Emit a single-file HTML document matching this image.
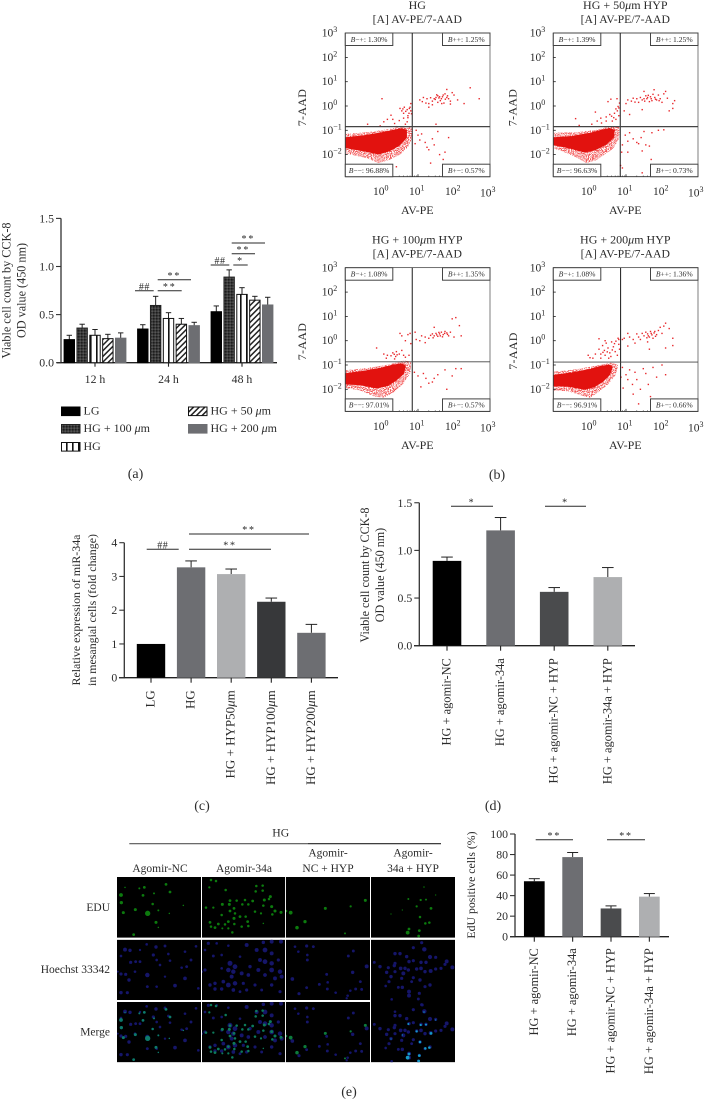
<!DOCTYPE html>
<html lang="en">
<head>
<meta charset="utf-8">
<title>Figure panels: CCK-8, flow cytometry, miR-34a and EdU</title>
<style>
html,body{margin:0;padding:0;background:#fff;width:705px;height:1102px;overflow:hidden}
svg text{font-family:"Liberation Serif","DejaVu Serif",serif;fill:#2b2b2b}
</style>
</head>
<body>
<svg id="fig" xmlns="http://www.w3.org/2000/svg" width="705" height="1102" viewBox="0 0 705 1102">
<defs>
<pattern id="p-dark" width="3" height="3" patternUnits="userSpaceOnUse"><rect width="3" height="3" fill="#3a3a3a"/><rect width="1.5" height="1.5" fill="#1c1c1c"/><rect x="1.5" y="1.5" width="1.5" height="1.5" fill="#555"/></pattern>
<pattern id="p-vert" width="6" height="4" patternUnits="userSpaceOnUse"><rect width="6" height="4" fill="#fff"/><rect x="0" width="1.6" height="4" fill="#111"/></pattern>
<pattern id="p-diag" width="4" height="4" patternUnits="userSpaceOnUse" patternTransform="rotate(45)"><rect width="4" height="4" fill="#fff"/><rect width="1.5" height="4" fill="#222"/></pattern>
<filter id="speckle" x="0" y="0" width="100%" height="100%"><feTurbulence type="fractalNoise" baseFrequency="0.95" numOctaves="1" seed="4"/><feColorMatrix type="matrix" values="0 0 0 0 0.89 0 0 0 0 0.09 0 0 0 0 0.09 0 0 0 7 -3"/><feComposite in2="SourceGraphic" operator="in"/></filter>
<filter id="soft" x="-10%" y="-10%" width="120%" height="120%"><feGaussianBlur stdDeviation="0.7"/></filter>
</defs>
</svg>
<script>
// ---- Panel (a) data
const aGroups = ['12 h','24 h','48 h'];
const aSeries = ['LG','HG + 100 μm','HG','HG + 50 μm','HG + 200 μm'];
const aValues = [[0.24,0.35,0.53],[0.36,0.595,0.89],[0.285,0.46,0.71],[0.25,0.40,0.65],[0.255,0.385,0.60]];
const aErrTops = [[0.285,0.395,0.59],[0.40,0.69,0.965],[0.345,0.52,0.78],[0.295,0.46,0.69],[0.31,0.42,0.68]];
const aTicks = ['0.0','0.5','1.0','1.5'];
// ---- Panel (c) data
const cCategories = ['LG','HG','HG + HYP50μm','HG + HYP100μm','HG + HYP200μm'];
const cValues = [1,3.27,3.07,2.25,1.33];
const cErrTops = [1,3.46,3.22,2.36,1.58];
const cTicks = ['0','1','2','3','4'];
// ---- Panel (d) data
const dCategories = ['HG + agomir-NC','HG + agomir-34a','HG + agomir-NC + HYP','HG + agomir-34a + HYP'];
const dValues = [0.89,1.21,0.565,0.72];
const dErrTops = [0.93,1.345,0.61,0.82];
const dTicks = ['0.0','0.5','1.0','1.5'];
// ---- Panel (e) bar data
const eCategories = ['HG + agomir-NC','HG + agomir-34a','HG + agomir-NC + HYP','HG + agomir-34a + HYP'];
const eValues = [54,77.5,27.5,39];
const eErrTops = [56.5,82,30,42];
const eTicks = ['0','20','40','60','80','100'];
// ---- Flow cytometry data (log10 AV-PE, log10 7-AAD)
const flowTitles = ['HG','HG + 50μm HYP','HG + 100μm HYP','HG + 200μm HYP'];
const flowDecades = [0,1,2,3];
const flowYDecades = [-2,-1,0,1,2,3];
const flowGates = [[0.84,-0.85],[0.84,-0.85],[0.84,-0.87],[0.85,-0.88]];
const flowPercents = [['1.30%','1.25%','96.88%','0.57%'],['1.39%','1.25%','96.63%','0.73%'],['1.08%','1.35%','97.01%','0.57%'],['1.08%','1.36%','96.91%','0.66%']];
const flowOuter = [
 [[-1,-1.15],[-.4,-1.08],[.2,-.95],[.6,-.82],[.82,-.87],[.85,-1.3],[.72,-1.7],[.5,-2.0],[.2,-2.22],[-.1,-2.35],[-.4,-2.15],[-.8,-2.02],[-1,-1.95]],
 [[-1,-1.1],[-.4,-1.08],[.2,-.98],[.6,-.82],[.82,-.85],[.82,-1.3],[.65,-1.75],[.4,-2.0],[.15,-2.25],[-.1,-2.35],[-.4,-2.1],[-.8,-1.85],[-1,-1.75]],
 [[-1,-1.22],[-.4,-1.12],[.2,-.98],[.6,-.82],[.8,-.85],[.8,-1.3],[.6,-1.75],[.35,-2.1],[.05,-2.35],[-.2,-2.3],[-.6,-2.05],[-1,-1.95]],
 [[-1,-1.28],[-.4,-1.18],[.2,-1.02],[.6,-.9],[.78,-1],[.72,-1.4],[.5,-1.8],[.25,-2.1],[.0,-2.35],[-.25,-2.25],[-.6,-2.08],[-1,-2.05]]
];
const flowCore = [
 [[-1,-1.3],[-.5,-1.22],[0,-1.1],[.3,-1],[.55,-.93],[.68,-1],[.68,-1.3],[.48,-1.62],[.2,-1.85],[-.1,-1.98],[-.5,-1.85],[-1,-1.72]],
 [[-1,-1.3],[-.5,-1.25],[0,-1.12],[.3,-1],[.55,-.92],[.68,-1],[.65,-1.3],[.45,-1.58],[.15,-1.8],[-.15,-1.9],[-.6,-1.72],[-1,-1.6]],
 [[-1,-1.35],[-.5,-1.25],[0,-1.12],[.3,-1],[.55,-.95],[.65,-1.05],[.6,-1.35],[.4,-1.62],[.15,-1.85],[-.15,-1.95],[-.6,-1.82],[-1,-1.78]],
 [[-1,-1.42],[-.5,-1.32],[0,-1.18],[.3,-1.05],[.55,-1],[.62,-1.1],[.55,-1.4],[.35,-1.68],[.12,-1.9],[-.15,-2],[-.6,-1.88],[-1,-1.86]]
];
const flowSparse = [
 [[1.05,.25],[1.15,.35],[1.25,.3],[1.3,.1],[1.4,.2],[1.45,.3],[1.5,.35],[1.55,.42],[1.6,.38],[1.65,.3],[1.7,.45],[1.75,.5],[1.8,.35],[1.85,.3],[1.9,.2],[1.95,.55],[2,.45],[1.4,.05],[1.55,.15],[1.72,.12],[1.9,.08],[2.1,.25],[2.28,.1],[2.7,.3],[2.45,.75],[1.8,.68],[1.3,-.05],[1.12,.18],[1.35,.34],[1.62,.22],[1.48,.27],[1.58,.33],[1.68,.38],[1.76,.28],[1.52,.46],[1.82,.42],[1.66,.1],[1.22,.12],
  [0,.3],[.6,-.3],[.3,-.55],[.5,-.1],[.55,-.2],[.7,-.15],[.75,-.3],[.8,-.2],[.72,-.4],[.7,-.65],[.65,-.75],[.4,-.85],[.15,-.55],[-.05,-.82],[-.4,-.75],[.05,-.65],[.25,-.38],[.78,-.05],[.8,.1],[.6,-.5],[.48,-.6],[.35,-.72],[.62,-.05],[.72,-.48],[.82,-.32],[.66,-.22],[.58,-.12],[.76,-.1],
  [1,-1.2],[1.05,-1.4],[1.1,-1.15],[1.2,-1.5],[1.25,-1.7],[1.3,-1.8],[1.4,-1.35],[1.45,-1.6],[1.5,-.75],[1.55,-1.05],[1.6,-2],[1.75,-1.9],[1.85,-1.3],[1.7,-2.2],[.95,-1],[1.35,-2.35],[.92,-1.55],[.4,-2.5],[.1,-2.55]],
 [[1,.1],[1.05,.25],[1.15,.2],[1.2,.32],[1.3,.3],[1.35,.15],[1.4,.35],[1.45,.25],[1.5,.3],[1.55,.42],[1.6,.35],[1.65,.18],[1.7,.3],[1.75,.48],[1.8,.35],[1.85,.25],[1.9,.45],[1.95,.3],[2,.15],[2.05,.5],[2.15,.32],[2.3,.1],[2.35,.22],[1.5,.6],[1.78,.67],[2.1,.6],[.95,-.2],[1.1,-.35],[1.45,-.15],[2.2,-.2],[2.3,-.1],[1.58,.3],[1.68,.38],[1.72,.22],[1.82,.28],[1.52,.2],[1.62,.44],[1.92,.22],[1.25,.16],
  [.15,-.25],[.75,.3],[.3,-.5],[.45,-.45],[.55,-.35],[.6,-.42],[.68,-.3],[.72,-.12],[.78,-.02],[.82,.12],[.5,.18],[.45,-.62],[.2,-.62],[.32,-.7],[.62,-.62],[.72,-.55],[.8,-.4],[-.4,-.52],[-.3,-.8],[.05,-.75],[.58,.28],[.76,-.2],[.8,-.08],[.66,-.48],
  [.98,-1.2],[1.05,-1.45],[1.1,-1.1],[1.2,-1.35],[1.3,-1.5],[1.35,-1.55],[1.42,-1.3],[1.5,-1.05],[1.55,-1.6],[1.65,-1.65],[1.72,-1.1],[1.9,-1],[2.05,-.98],[1.45,-1.85],[1.05,-1.9],[.9,-1.6],[1.45,-2.75],[.85,-2.45],[.9,-2.55],[1.7,-2.2],[.88,-1.9]],
 [[.92,.35],[.95,.05],[1.05,.0],[1.1,.2],[1.2,.15],[1.3,.1],[1.35,.22],[1.4,.28],[1.45,.2],[1.5,.3],[1.55,.18],[1.6,.28],[1.65,.35],[1.7,.25],[1.75,.38],[1.8,.32],[1.85,.2],[1.9,.35],[2,.15],[1.95,.9],[2.05,.95],[2.15,.62],[2.2,.2],[1.45,.55],[1.2,-.08],[1.52,.24],[1.58,.34],[1.68,.16],[1.74,.3],[1.42,.12],[1.62,.2],[1.82,.26],
  [-.15,-.3],[.05,-.55],[.15,-.6],[.25,-.62],[.3,-.5],[.38,-.65],[.4,-.45],[.48,-.55],[.55,-.4],[.6,-.6],[.5,.3],[.55,.2],[.65,.0],[.72,.25],[.78,.3],[.8,-.12],[.35,-.75],[.12,-.72],[.65,-.68],[.75,-.6],[.42,-.58],[.34,-.56],
  [1,-1.45],[1.08,-1.9],[1.15,-1.35],[1.22,-1.55],[1.3,-1.75],[1.4,-1.7],[1.45,-1.55],[1.55,-1.4],[1.75,-1.2],[1.8,-2.0],[1.95,-1.45],[2.05,-1.15],[2.2,-1.15],[.9,-1.3]],
 [[.9,.05],[.95,.1],[1.05,.3],[1.1,.15],[1.2,.05],[1.3,.28],[1.35,.15],[1.4,.05],[1.45,.3],[1.5,.2],[1.55,.35],[1.6,.28],[1.65,.15],[1.7,.3],[1.75,.1],[1.8,.38],[1.85,.25],[1.9,.42],[1.95,.55],[2,.3],[2.05,.6],[2.1,.72],[2.2,.5],[2.3,.1],[2.3,-.2],[2.1,-.3],[1.6,-.05],[1.05,-.22],[1.25,-.1],[1.65,-.35],[1.62,.2],[1.72,.24],[1.78,.32],[1.58,.12],[1.68,.38],[1.82,.18],
  [.15,-.55],[.25,-.35],[.3,-.55],[.35,-.2],[.4,-.4],[.42,-.6],[.45,-.1],[.5,-.3],[.55,-.5],[.58,-.65],[.6,-.05],[.65,-.25],[.7,-.45],[.72,-.02],[.76,-.6],[.78,.1],[.8,-.15],[.42,.0],[.25,.08],[.08,-.72],[.0,-.7],[.3,-.72],[.52,-.72],[-.05,-.6],[.8,.05],[.82,-.35],[.62,-.38],[.36,-.48],[.48,-.46],[.68,-.12],
  [.9,-1.1],[1,-1.4],[1.05,-1.6],[1.1,-1.2],[1.18,-1.8],[1.25,-1.3],[1.3,-1.6],[1.4,-2],[1.48,-1.15],[1.55,-1.35],[1.62,-1.8],[1.68,-2.3],[1.75,-1.1],[1.85,-1.5],[2,-1.0],[2.1,-1.4],[1.2,-2.2],[.92,-1.95],[1.35,-2.6],[.86,-1.5]]
];
// ---- Micrograph nuclei (positions in zoomed image pixels)
const cellGreen = [
 [[18,60,3],[19,83,2.6],[25,113,2.4],[61,104,2.4],[98,115,4.2],[123,142,2.4],[56,179,2.2],[84,61,2.2],[88,37,2.2],[73,40,1.6],[153,28,2.2],[165,51,2.2],[30,37,1.2],[130,106,1.6],[113,87,2],[117,55,1.6],[205,91,1.2],[163,115,1.2],[130,157,1.2]],
 [[288,15,2],[303,18,2],[283,37,1.8],[332,45,2],[424,33,2],[443,32,2],[422,49,2],[443,47,2],[466,65,2.4],[448,75,2.4],[462,72,2],[345,77,2.2],[365,77,2],[390,75,2],[413,78,2.2],[273,98,2],[295,98,1.8],[322,88,2.4],[343,88,2.4],[357,100,2.2],[382,88,2],[400,88,2],[445,92,2],[470,95,2.4],[480,108,2.4],[498,112,2.4],[345,108,2.2],[375,125,2.2],[392,125,2],[420,110,2],[438,115,1.8],[320,120,2],[357,130,2.4],[340,140,2.2],[398,140,2.2],[285,142,2.2],[400,153,2],[330,148,2],[310,147,2.2],[358,147,2],[380,155,2],[300,158,2.2],[288,155,2],[322,160,1.6],[340,160,1.8],[352,172,2],[472,118,2],[445,145,1.2],[360,115,2]],
 [[17,113,3],[121,100,2.4],[60,140,2.6],[36,158,2.8],[180,175,1.6],[241,76,2.4],[197,94,1.8],[3,108,2]],
 [[368,173,3],[372,162,2.2],[403,167,2.2],[401,183,2.2],[421,145,2],[433,143,2],[405,126,2],[438,100,2.2],[395,94,1.8],[407,75,1.8],[423,74,1.6],[370,72,1.6],[452,60,1],[417,36,1.2],[318,117,1],[352,105,1]]
];
const cellBlue = [
 [[30,224,3],[45,226,2.6],[18,243,2],[123,216,2.6],[150,213,2.2],[243,214,2],[95,208,2],[47,262,2.4],[62,260,2.2],[75,260,2.2],[125,255,2],[160,237,2],[115,240,2.4],[165,257,2],[200,278,2],[215,275,2.2],[228,255,2.2],[18,297,2.4],[32,298,2.4],[97,300,3.4],[42,315,2.6],[210,310,2.8],[180,332,2.8],[125,335,2],[97,335,2.2],[18,353,2.6],[37,353,2.4],[8,290,1.6],[60,290,2],[150,305,1.8],[135,270,2],[75,225,1.8],[250,340,2],[210,230,2]],
 [[280,205,2.4],[305,205,2],[340,212,2],[395,210,3],[445,202,2.6],[470,200,3],[498,200,3],[270,225,2],[295,243,2.2],[425,225,3],[450,225,3.6],[470,235,3],[435,255,3],[450,260,3.6],[470,265,3.4],[345,265,3.8],[360,275,3.6],[340,285,3.4],[355,290,3.4],[405,275,2.6],[430,285,3],[470,285,3.6],[495,290,3.4],[270,285,2.4],[320,280,2],[380,295,3],[400,300,2.8],[450,300,2.8],[480,310,3],[500,305,3],[350,305,3],[325,320,2.8],[360,325,3.4],[300,325,2.6],[285,330,2.6],[340,330,3.6],[385,325,2.4],[420,330,2.4],[470,330,2.6],[300,342,2.6],[320,342,2.6],[355,345,2.8],[395,345,2.4],[440,345,2.2],[495,350,2.4],[375,350,2.2],[260,290,2],[490,255,2.4],[375,245,2],[320,240,2]],
 [[30,215,2],[65,213,2.4],[85,215,2.2],[40,230,2],[67,240,2],[67,255,2.2],[205,228,2.2],[190,243,2.2],[125,298,2.2],[203,292,2.6],[245,274,3],[22,312,2.8],[65,338,2.2],[103,328,2.2],[128,322,2],[127,342,2.2],[152,353,2],[42,356,2.4],[188,362,2],[196,347,2],[212,342,2.2],[230,343,2.2],[226,320,2.2],[185,370,1.8]],
 [[410,203,2.4],[385,218,2.4],[418,223,3.4],[330,236,2.6],[345,236,2.6],[365,245,2.6],[435,246,3.2],[452,247,2.4],[385,257,2.4],[372,260,2.6],[408,262,2.6],[423,262,2.6],[485,259,3],[268,262,2.2],[285,275,2.6],[310,278,2.4],[328,272,2.6],[330,265,2.4],[347,280,2.8],[360,280,2.6],[370,285,2.6],[395,282,2.6],[408,280,2.8],[420,290,2.6],[437,288,3],[452,282,2.4],[468,280,2.4],[480,268,2.4],[502,277,3],[305,292,2.6],[330,290,2.4],[355,295,3],[318,305,2.6],[312,320,2.4],[302,333,2],[350,310,2.4],[385,308,2.4],[380,320,2.2],[405,315,2.6],[420,335,2.4],[435,330,2.6],[340,337,2.2],[352,337,2.6],[372,350,3],[372,362,3],[403,355,2.4],[400,372,2.2],[320,373,2],[412,390,2.2],[330,410,2]]
];
const svgNS = 'http://www.w3.org/2000/svg';
const root = document.getElementById('fig');
function mk(tag, parent, name, attrs){
  const el = document.createElementNS(svgNS, tag);
  
  
  for(const k in attrs) el.setAttribute(k, attrs[k]);
  parent.appendChild(el);
  return el;
}
function group(parent, name){ return mk('g', parent, name, {}); }
function txt(parent, name, x, y, s, size, anchor, rot){
  const a = {x:x, y:y, 'font-size':size||11.3, 'text-anchor':anchor||'start'};
  if(rot) a.transform = 'rotate(-90 '+x+' '+y+')';
  const el = mk('text', parent, name, a);
  el.innerHTML = s.replace(/μ/g, '<tspan font-style="italic">μ</tspan>');
  return el;
}
function line(parent, name, x1, y1, x2, y2, color, w){
  return mk('line', parent, name, {x1:x1, y1:y1, x2:x2, y2:y2, stroke:color||'#222', 'stroke-width':w||1.1});
}
function sig(parent, x1, x2, y, label){
  line(parent, 'significance-line', x1, y, x2, y, '#2a2a2a', 1);
  const t = txt(parent, 'significance-label', (x1+x2)/2, y-0.8, label, 10, 'middle');
  t.setAttribute('letter-spacing', label[0]==='#' ? '0.5' : '1.8');
}

// Generic bar chart driven by arrays
function barChart(g, cfg){
  const y = v => cfg.y0 - v*cfg.k;
  line(g, 'y-axis', cfg.ax, cfg.y0+0.5, cfg.ax, y(cfg.max), '#333', 1.3);
  line(g, 'x-axis', cfg.xStart, cfg.y0, cfg.xEnd, cfg.y0, '#222', 1.3);
  cfg.ticks.forEach(t=>{
    const v = parseFloat(t);
    line(g, 'y-tick', cfg.ax-5, y(v), cfg.ax, y(v), '#333', 1.1);
    txt(g, 'y-tick-label', cfg.ax-7, y(v)+4, t, 11.8, 'end');
  });
  cfg.values.forEach((v,i)=>{
    const c = cfg.cx(i), h = cfg.barW/2;
    const top = y(cfg.tops[i]);
    if(cfg.tops[i] > v){
      line(g, 'error-stem', c, top, c, y(v), '#222', 1);
      line(g, 'error-cap', c-cfg.cap, top, c+cfg.cap, top, '#222', 1);
    }
    mk('rect', g, 'bar-'+cfg.slug[i], {x:c-h, y:y(v), width:cfg.barW, height:cfg.k*v, fill:cfg.colors[i]});
    line(g, 'x-tick', c, cfg.y0, c, cfg.y0+5, '#222', 1.1);
    txt(g, 'x-tick-label', c+cfg.lblDx, cfg.y0+cfg.lblDy, cfg.labels[i], cfg.lblSize, 'end', true);
  });
}

// ===== Panel A
(function(){
  const g = group(root, 'panel-a-cck8-chart');
  const y0 = 362.7, k = 96.2, ax = 61;
  const y = v => y0 - v*k;
  const gc = i => 95 + i*73.5;
  const fills = ['#000','url(#p-dark)','url(#p-vert)','url(#p-diag)','#6d6e72'];
  const strokes = ['#000','#222','#111','#111','#6d6e72'];
  line(g, 'y-axis', ax, y0+0.5, ax, y(1.5), '#333', 1.3);
  line(g, 'x-axis', 57, y0, 277, y0, '#222', 1.3);
  aTicks.forEach(t=>{
    const v = parseFloat(t);
    line(g, 'y-tick', ax-5, y(v), ax, y(v), '#333', 1.1);
    txt(g, 'y-tick-label', ax-7, y(v)+4, t, 11.8, 'end');
  });
  aSeries.forEach((s,si)=>{
    aGroups.forEach((gl,gi)=>{
      const cx = gc(gi) + (si-2)*12.85, v = aValues[si][gi], top = y(aErrTops[si][gi]);
      line(g, 'error-stem', cx, top, cx, y(v), '#222', 1);
      line(g, 'error-cap', cx-2.7, top, cx+2.7, top, '#222', 1);
      mk('rect', g, 'bar-'+gl.replace(' ','')+'-series-'+si, {x:cx-5.2, y:y(v), width:10.4, height:k*v, fill:fills[si], stroke:strokes[si], 'stroke-width':1});
    });
  });
  aGroups.forEach((gl,gi)=>{
    line(g, 'x-tick', gc(gi), y0, gc(gi), y0+4, '#222', 1.1);
    txt(g, 'x-tick-label', gc(gi), 383, gl, 11.8, 'middle');
  });
  txt(g, 'y-axis-title-line-1', 10.5, 290.5, 'Viable cell count by CCK-8', 12.2, 'middle', true);
  txt(g, 'y-axis-title-line-2', 25.5, 290.5, 'OD value (450 nm)', 12.2, 'middle', true);
  sig(g,135,153.7,290.7,'##'); sig(g,157.7,181.7,290.7,'**'); sig(g,157.7,191,279.7,'**');
  sig(g,210.7,229.3,265,'##'); sig(g,233.3,247.7,265,'*'); sig(g,231.7,255,253.7,'**'); sig(g,231.7,265,243,'**');
  const lg = group(g, 'legend');
  const lx = [61,61,61,188,188], ly = [407,424.5,442.5,407,424.5];
  aSeries.forEach((s,i)=>{
    const e = group(lg, 'legend-entry');
    mk('rect', e, 'legend-swatch', {x:lx[i]+0.5, y:ly[i], width:18.5, height:8.6, fill:fills[i], stroke:strokes[i], 'stroke-width':1});
    txt(e, 'legend-label', lx[i]+22.5, ly[i]+7.7, s, 12);
  });
  txt(g, 'panel-label-a', 135.5, 478, '(a)', 14, 'middle');
})();

// ===== Panel B flow plots
(function(){
  const W = 144.7, H = 143.7;
  const pos = [[345.3,33],[553.3,33],[345.3,267.7],[553.3,267.7]];
  const yTitle = [[306,107.5],[516.5,107.5],[306,341.5],[517,351]];
  const DX = 36, DY = 24.3;
  flowTitles.forEach((title,p)=>{
    const g = group(root, 'flow-plot-'+(p+1));
    const L = pos[p][0], T = pos[p][1];
    const sx = v => L + 36.7 + v*DX;
    const sy = v => T + 73 - v*DY;
    const cx = L + 72;
    txt(g, 'plot-title', cx, T-24, title, 12, 'middle');
    const sub = txt(g, 'plot-subtitle', cx, T-10, '[A] AV-PE/7-AAD', 11.7, 'middle');
    sub.setAttribute('letter-spacing','0.05');
    mk('rect', g, 'plot-frame', {x:L, y:T, width:W, height:H, fill:'#fff', stroke:'#9a9a9a', 'stroke-width':0.7});
    const pts = a => a.map(q=>sx(q[0]).toFixed(1)+','+sy(q[1]).toFixed(1)).join(' ');
    mk('polygon', g, 'cell-cloud-edge', {points:pts(flowOuter[p]), fill:'#fff', filter:'url(#speckle)'});
    mk('polygon', g, 'cell-cloud-core', {points:pts(flowCore[p]), fill:'#e2120f', stroke:'#e2120f', 'stroke-width':0.8});
    flowSparse[p].forEach(q=>{
      mk('rect', g, 'event-point', {x:sx(q[0])-0.7, y:sy(q[1])-0.7, width:1.4, height:1.4, fill:'#e8262a'});
    });
    line(g, 'left-axis', L, T, L, T+H, '#333', 0.9);
    line(g, 'bottom-axis', L, T+H, L+W, T+H, '#333', 0.9);
    line(g, 'top-edge', L, T, L+W, T, '#333', 0.7);
    line(g, 'right-edge', L+W, T, L+W, T+H, '#666', 0.7);
    line(g, 'gate-vertical', sx(flowGates[p][0]), T, sx(flowGates[p][0]), T+H, '#1a1a1a', 1);
    line(g, 'gate-horizontal', L, sy(flowGates[p][1]), L+W, sy(flowGates[p][1]), '#444', p<2 ? 1.2 : 0.9);
    flowDecades.forEach(d=>{
      line(g, 'x-major-tick', sx(d), T+H, sx(d), T+H-2.5, '#222', 0.8);
      const t = txt(g, 'x-tick-label', sx(d)-(d===3?10:9), T+H+(d===3?20:18.5), '10', 11.5, 'start');
      const e = document.createElementNS(svgNS,'tspan');
      e.setAttribute('dy','-4.5'); e.setAttribute('font-size','8'); e.textContent = d;
      t.appendChild(e);
      [2,3,4,5,6,7,8,9].forEach(m=>{
        const xv = sx(d-1)+Math.log10(m)*DX;
        if(xv>L) line(g,'x-minor-tick',xv,T+H,xv,T+H-1.3,'#333',0.5);
      });
    });
    flowYDecades.forEach(d=>{
      line(g, 'y-major-tick', L, sy(d), L+2.5, sy(d), '#222', 0.8);
      const t = txt(g, 'y-tick-label', L-23.5, sy(d)+3.5, '10', 11.5, 'start');
      const e = document.createElementNS(svgNS,'tspan');
      e.setAttribute('dy','-4.5'); e.setAttribute('font-size','8'); e.textContent = d<0 ? '−'+(-d) : d;
      t.appendChild(e);
    });
    const bw = 47.5, bh = 12.5;
    const corners = [[L,T,'B−+'],[L+W-bw,T,'B++'],[L,T+H-bh,'B−−'],[L+W-bw,T+H-bh,'B+−']];
    corners.forEach((c,i)=>{
      const b = group(g, 'quadrant-stat');
      mk('rect', b, 'quadrant-box', {x:c[0], y:c[1], width:bw, height:bh, fill:'#fff', stroke:'#444', 'stroke-width':1});
      const t = txt(b, 'quadrant-label', c[0]+bw/2, c[1]+8.8, '', 7.6, 'middle');
      t.innerHTML = '<tspan font-style="italic">B</tspan>'+c[2].slice(1)+': '+flowPercents[p][i];
    });
    txt(g, 'x-axis-title', cx, T+H+37.5, 'AV-PE', 12, 'middle');
    const yt = txt(g, 'y-axis-title', yTitle[p][0], yTitle[p][1], '7-AAD', 12, 'middle', true);
    yt.setAttribute('letter-spacing','0.3');
  });
  txt(root, 'panel-label-b', 497, 479, '(b)', 14, 'middle');
})();

// ===== Panel C
(function(){
  const g = group(root, 'panel-c-mir34a-chart');
  barChart(g, {ax:124.3,y0:677.7,k:33.75,max:4,xStart:119,xEnd:338,ticks:cTicks,values:cValues,tops:cErrTops,labels:cCategories,
    cx:i=>151+i*40.1,barW:28.4,cap:5.8,colors:['#000','#6d6e72','#aeafb1','#37383a','#6d6e72'],slug:['lg','hg','hyp50','hyp100','hyp200'],lblDx:3.5,lblDy:12.5,lblSize:13});
  sig(g,146.7,178.7,549.3,'##'); sig(g,189,271,549.3,'**'); sig(g,189,309,534,'**');
  txt(g,'y-axis-title-line-1',80,610,'Relative expression of miR-34a',11.9,'middle',true);
  txt(g,'y-axis-title-line-2',96,610,'in mesangial cells (fold change)',11.9,'middle',true);
  txt(root,'panel-label-c',202,810,'(c)',14,'middle');
})();

// ===== Panel D
(function(){
  const g = group(root, 'panel-d-cck8-agomir-chart');
  barChart(g, {ax:419.3,y0:645.7,k:95.3,max:1.5,xStart:414,xEnd:635,ticks:dTicks,values:dValues,tops:dErrTops,labels:dCategories,
    cx:i=>447+i*53.6,barW:28.6,cap:5.8,colors:['#000','#6d6e72','#4a4b4d','#aeafb1'],slug:['agomir-nc','agomir-34a','agomir-nc-hyp','agomir-34a-hyp'],lblDx:3.5,lblDy:12.5,lblSize:12.4});
  sig(g,451,493,506.3,'*'); sig(g,545,586,506.3,'*');
  txt(g,'y-axis-title-line-1',369,575,'Viable cell count by CCK-8',12.1,'middle',true);
  txt(g,'y-axis-title-line-2',384,575,'OD value (450 nm)',12.1,'middle',true);
  txt(root,'panel-label-d',493,810,'(d)',14,'middle');
})();

// ===== Panel E bars
(function(){
  const g = group(root, 'panel-e-edu-chart');
  barChart(g, {ax:515,y0:936.7,k:1.027,max:100,xStart:510,xEnd:669,ticks:eTicks,values:eValues,tops:eErrTops,labels:eCategories,
    cx:i=>534.3+i*38.35,barW:20.7,cap:5.5,colors:['#000','#6d6e72','#4a4b4d','#aeafb1'],slug:['agomir-nc','agomir-34a','agomir-nc-hyp','agomir-34a-hyp'],lblDx:3.5,lblDy:11.5,lblSize:12.4});
  sig(g,535.7,573,839.7,'**'); sig(g,607,645,839.7,'**');
  txt(g,'y-axis-title',475,885,'EdU positive cells (%)',11.8,'middle',true);
})();

// ===== Panel E micrographs
(function(){
  const g = group(root, 'panel-e-micrographs');
  txt(g,'hg-header',280.7,836.7,'HG',11.7,'middle');
  line(g,'hg-bracket-left',129.3,843.7,308,843.7,'#555',1.2);
  line(g,'hg-bracket-right',308,843.7,441,843.7,'#222',1.1);
  txt(g,'column-label',160,872,'Agomir-NC',11.5,'middle');
  txt(g,'column-label',244,872,'Agomir-34a',11.5,'middle');
  txt(g,'column-label',328,856.7,'Agomir-',11.5,'middle');
  txt(g,'column-label',328,872,'NC + HYP',11.5,'middle');
  txt(g,'column-label',413,856.7,'Agomir-',11.5,'middle');
  txt(g,'column-label',413,872,'34a + HYP',11.5,'middle');
  txt(g,'row-label',110,911,'EDU',11.5,'end');
  txt(g,'row-label',110,973,'Hoechst 33342',11.5,'end');
  txt(g,'row-label',110,1035.7,'Merge',11.5,'end');
  const colX = [[117,84],[202,83.2],[286,84],[371,84]];
  const originX = [115,115,285,285];
  const rows = [[877,60.7],[939.7,60.3],[1002,60.3]];
  const mergeGreen = ['#0c7a6c','#0c7a5a','#0b7a3a','#129ac4'];
  rows.forEach((r,ri)=>{
    colX.forEach((c,ci)=>{
      const ry = r[0];
      let rh = r[1];
      if(ci===3 && ri===1) rh = 1062.3-939.7;
      if(ci===3 && ri===2) return;
      const s = mk('svg', g, 'micrograph-r'+(ri+1)+'-c'+(ci+1), {x:c[0], y:ry, width:c[1], height:rh,
        viewBox:((c[0]-originX[ci])*3)+' '+((ry-875)*3)+' '+(c[1]*3)+' '+(rh*3)});
      const ox = (c[0]-originX[ci])*3, oy = (ry-875)*3;
      mk('rect', s, 'micrograph-background', {x:ox, y:oy, width:c[1]*3, height:rh*3, fill:'#000'});
      const d = group(s, 'nuclei');
      d.setAttribute('filter','url(#soft)');
      const mergedColumn = ci===3 && ri===1;
      const blueShifts = ri===0 ? [] : (mergedColumn ? [0,186] : [ri===2 ? 186 : 0]);
      blueShifts.forEach(shift=>{
        cellBlue[ci].forEach(q=>{
          mk('circle', d, 'blue-nucleus', {cx:q[0], cy:q[1]+shift, r:q[2]*2, fill:'#121268'});
        });
      });
      if(ri===0){
        cellGreen[ci].forEach(q=>{
          mk('circle', d, 'green-nucleus', {cx:q[0], cy:q[1], r:q[2]*1.9, fill:'#0a7a10'});
        });
      }
      if(ri===2 || mergedColumn){
        cellGreen[ci].forEach(q=>{
          mk('circle', d, 'merged-nucleus', {cx:q[0], cy:q[1]+375, r:q[2]*1.9, fill:mergeGreen[ci]});
        });
      }
    });
  });
  txt(root,'panel-label-e',349,1096,'(e)',14,'middle');
})();
</script>
</body>
</html>
